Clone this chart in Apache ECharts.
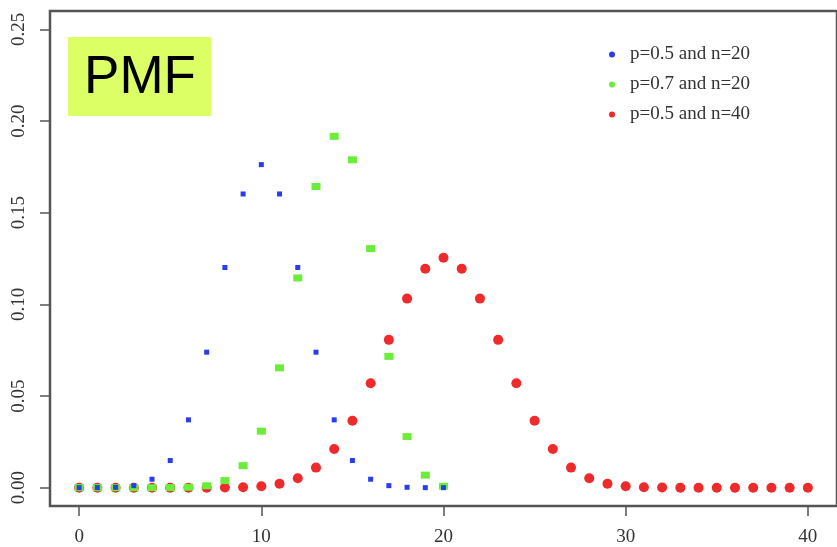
<!DOCTYPE html>
<html>
<head>
<meta charset="utf-8">
<script src="https://cdn.jsdelivr.net/npm/echarts@6/dist/echarts.min.js"></script>
<style>html,body{margin:0;padding:0;background:#fff}#c{width:837px;height:547px}</style>
</head>
<body>
<div id="c"></div>
<script>
const xTicks = [0, 10, 20, 30, 40];
const yTicks = [0, 0.05, 0.10, 0.15, 0.20, 0.25];
const seriesNames = ['p=0.5 and n=20', 'p=0.7 and n=20', 'p=0.5 and n=40'];
const blueX = [0,1,2,3,4,5,6,7,8,9,10,11,12,13,14,15,16,17,18,19,20];
const blueY = [0.000001,0.000019,0.00018,0.0011,0.0046,0.0148,0.0370,0.0739,0.1201,0.1602,0.1762,0.1602,0.1201,0.0739,0.0370,0.0148,0.0046,0.0011,0.0002,0.00002,0.000001];
const greenX = [0,1,2,3,4,5,6,7,8,9,10,11,12,13,14,15,16,17,18,19,20];
const greenY = [0,0,0,0,0.000005,0.00004,0.00022,0.00102,0.00386,0.01201,0.03082,0.06537,0.1144,0.16426,0.19164,0.17886,0.13042,0.0716,0.02785,0.00684,0.0008];
const redX = [0,1,2,3,4,5,6,7,8,9,10,11,12,13,14,15,16,17,18,19,20,21,22,23,24,25,26,27,28,29,30,31,32,33,34,35,36,37,38,39,40];
const redY = [0,0,0,0,0,0,0.000003,0.00002,0.00007,0.00025,0.00077,0.00212,0.0051,0.01094,0.02107,0.03648,0.057,0.08063,0.10312,0.1194,0.12537,0.1194,0.10312,0.08063,0.057,0.03648,0.02107,0.01094,0.0051,0.00212,0.00077,0.00025,0.00007,0.00002,0.000003,0,0,0,0,0,0];

const zip = (xs, ys) => xs.map((x, i) => [x, ys[i]]);
const serif = '"Liberation Serif", "DejaVu Serif", serif';
const axisCol = '#555';

const chart = echarts.init(document.getElementById('c'), null, {renderer: 'canvas'});
chart.setOption({
  animation: false,
  backgroundColor: '#fff',
  grid: {left: 50, top: 11, right: -6, bottom: 40, show: true, borderColor: axisCol, borderWidth: 2.5, containLabel: false},
  xAxis: {
    type: 'value', min: -1.6, max: 41.6,
    axisLine: {show: false, onZero: false},
    axisTick: {show: true, customValues: xTicks, length: 10, lineStyle: {color: axisCol, width: 1.5}},
    axisLabel: {customValues: xTicks, margin: 22, fontFamily: serif, fontSize: 19, color: '#333', formatter: v => String(v)},
    splitLine: {show: false}
  },
  yAxis: {
    type: 'value', min: -0.01, max: 0.26,
    axisLine: {show: false, onZero: false},
    axisTick: {show: true, customValues: yTicks, length: 10, lineStyle: {color: axisCol, width: 1.5}},
    axisLabel: {customValues: yTicks, rotate: 90, margin: 21, fontFamily: serif, fontSize: 19, color: '#333', formatter: v => v.toFixed(2)},
    splitLine: {show: false}
  },
  legend: {
    data: [
      {name: seriesNames[0], icon: 'circle'},
      {name: seriesNames[1], icon: 'circle'},
      {name: seriesNames[2], icon: 'circle'}
    ],
    orient: 'vertical', left: 609, top: 45, padding: 0,
    itemWidth: 6, itemHeight: 6, itemGap: 11,
    textStyle: {fontFamily: serif, fontSize: 19, color: '#333', padding: [0, 0, 0, 10]}
  },
  graphic: [
    {type: 'rect', shape: {x: 68, y: 37, width: 143, height: 79}, style: {fill: '#dcff66'}, z: 10},
    {type: 'text', x: 140, y: 78, style: {text: 'PMF', fontFamily: '"Liberation Sans", Arial, sans-serif', fontSize: 53, fill: '#000', align: 'center', verticalAlign: 'middle'}, z: 11}
  ],
  series: [
    {name: seriesNames[0], type: 'scatter', data: zip(blueX, blueY), symbol: 'rect', symbolSize: 5, itemStyle: {color: '#2a3cf0', opacity: 1}, z: 4},
    {name: seriesNames[1], type: 'scatter', data: zip(greenX, greenY), symbol: 'rect', symbolSize: [9, 7], itemStyle: {color: '#6aee3a', opacity: 1}, z: 3},
    {name: seriesNames[2], type: 'scatter', data: zip(redX, redY), symbol: 'circle', symbolSize: 10, itemStyle: {color: '#ee2a2a', opacity: 1}, z: 2}
  ]
});
</script>
</body>
</html>
